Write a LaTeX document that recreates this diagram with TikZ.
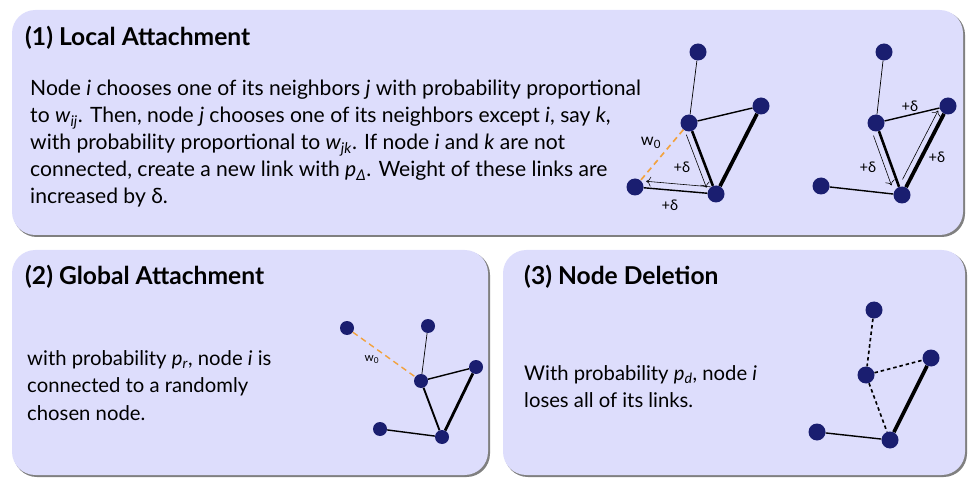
\documentclass[tikz,border=0pt]{standalone}
\usepackage{fontspec}
\setmainfont{Lato}
\usetikzlibrary{arrows.meta, calc}

\definecolor{panelfill}{RGB}{221,221,252}
\definecolor{navy}{RGB}{26,30,112}
\definecolor{linkorange}{RGB}{242,162,62}

\begin{document}
\begin{tikzpicture}[
    x=0.03cm, y=-0.03cm,
    panel/.style={fill=panelfill, rounded corners=0.7cm},
    panelshadow/.style={fill=black!50, rounded corners=0.7cm},
    title/.style={font=\bfseries\fontsize{21}{24}\selectfont, inner sep=0pt, anchor=base west},
    body/.style={font=\fontsize{18}{23}\selectfont, align=left, inner sep=0pt, anchor=north west},
    smallbody/.style={body, font=\fontsize{17.3}{23.5}\selectfont},
    vertex/.style={circle, fill=navy, inner sep=0pt, minimum size=0.51cm},
    smallvertex/.style={vertex, minimum size=0.42cm},
    weak/.style={line width=0.6pt},
    link/.style={line width=1.2pt},
    strong/.style={line width=2.2pt},
    heavy/.style={line width=3.2pt},
    newlink/.style={draw=linkorange, line width=1.4pt, dash pattern=on 5pt off 3.5pt},
    lostlink/.style={line width=1.4pt, dash pattern=on 3pt off 2.5pt},
    flow/.style={-{To[length=4pt]}, line width=0.5pt},
    lbl/.style={font=\fontsize{12.5}{14}\selectfont, inner sep=0pt}
]
    % panels
    \fill[panelshadow] (13.5,11.5) rectangle (965,237);
    \fill[panel] (12,10) rectangle (963,235);
    \fill[panelshadow] (13.5,251.5) rectangle (490,477);
    \fill[panel] (12,250) rectangle (488,475);
    \fill[panelshadow] (504.5,251.5) rectangle (967,477);
    \fill[panel] (503,250) rectangle (965,475);

    % (1) Local Attachment
    \node[title] (title1) at (25,46) {(1) Local Attachment};
    \node[body] (text1) at (30,80) {Node \textit{i} chooses one of its neighbors \textit{j} with probability proportional\\
        to \textit{w}\textsubscript{\textit{ij}}. Then, node \textit{j} chooses one of its neighbors except \textit{i}, say \textit{k},\\
        with probability proportional to \textit{w}\textsubscript{\textit{jk}}. If node \textit{i} and \textit{k} are not\\
        connected, create a new link with \textit{p}\textsubscript{\textit{Δ}}. Weight of these links are\\
        increased by δ.};

    \node[vertex] (t1) at (698,52) {};
    \node[vertex] (i1) at (689,123) {};
    \node[vertex] (r1) at (761,106) {};
    \node[vertex] (k1) at (635,187) {};
    \node[vertex] (j1) at (716,194) {};
    \draw[weak] (t1) -- (i1);
    \draw[link] (i1) -- (r1);
    \draw[strong] (i1) -- (j1);
    \draw[heavy] (r1) -- (j1);
    \draw[link] (k1) -- (j1);
    \draw[newlink] (i1) -- (k1);
    \draw[flow, shorten <=0.3cm, shorten >=0.28cm] ($(i1)!0.2cm!-90:(j1)$) -- ($(j1)!0.2cm!90:(i1)$);
    \draw[flow, shorten <=0.18cm, shorten >=0.32cm] ($(j1)!0.2cm!-90:(k1)$) -- ($(k1)!0.2cm!90:(j1)$);
    \node[lbl, font=\fontsize{14}{16}\selectfont] (w1) at (651,143) {w\textsubscript{0}};
    \node[lbl] (d1) at (682,167) {+δ};
    \node[lbl] (d2) at (670,205) {+δ};

    \node[vertex] (t2) at (884,52) {};
    \node[vertex] (i2) at (876,123) {};
    \node[vertex] (k2) at (948,106) {};
    \node[vertex] (b2) at (821,186) {};
    \node[vertex] (j2) at (902,195) {};
    \draw[weak] (t2) -- (i2);
    \draw[link] (i2) -- (k2);
    \draw[strong] (i2) -- (j2);
    \draw[heavy] (k2) -- (j2);
    \draw[link] (b2) -- (j2);
    \draw[flow, shorten <=0.33cm, shorten >=0.38cm] ($(i2)!0.2cm!-90:(j2)$) -- ($(j2)!0.2cm!90:(i2)$);
    \draw[flow, shorten <=0.42cm, shorten >=0.26cm] ($(j2)!0.2cm!90:(k2)$) -- ($(k2)!0.2cm!-90:(j2)$);
    \node[lbl] (d3) at (910,106) {+δ};
    \node[lbl] (d4) at (937,157) {+δ};
    \node[lbl] (d5) at (868,167) {+δ};

    % (2) Global Attachment
    \node[title] (title2) at (25,284) {(2) Global Attachment};
    \node[smallbody] (text2) at (27,350) {with probability \textit{p}\textsubscript{\textit{r}}, node \textit{i} is\\
        connected to a randomly\\
        chosen node.};

    \node[smallvertex] (n3) at (347,328) {};
    \node[smallvertex] (t3) at (428,326) {};
    \node[smallvertex] (i3) at (421,381) {};
    \node[smallvertex] (r3) at (476,367) {};
    \node[smallvertex] (b3) at (380,429) {};
    \node[smallvertex] (c3) at (442,437) {};
    \draw[weak] (t3) -- (i3);
    \draw[link] (i3) -- (r3);
    \draw[line width=1.6pt] (i3) -- (c3);
    \draw[line width=2.4pt] (r3) -- (c3);
    \draw[link] (b3) -- (c3);
    \draw[newlink, line width=1.2pt] (n3) -- (i3);
    \node[lbl, font=\fontsize{10}{12}\selectfont] (w2) at (372,360) {w\textsubscript{0}};

    % (3) Node Deletion
    \node[title] (title3) at (524,284) {(3) Node Deletion};
    \node[smallbody] (text3) at (524,365) {With probability \textit{p}\textsubscript{\textit{d}}, node \textit{i}\\
        loses all of its links.};

    \node[vertex] (t4) at (874,310) {};
    \node[vertex] (i4) at (866,375) {};
    \node[vertex] (r4) at (931,358) {};
    \node[vertex] (b4) at (817,432) {};
    \node[vertex] (c4) at (890,440) {};
    \draw[lostlink] (t4) -- (i4);
    \draw[lostlink] (i4) -- (r4);
    \draw[lostlink] (i4) -- (c4);
    \draw[heavy] (r4) -- (c4);
    \draw[link] (b4) -- (c4);

    \useasboundingbox (0,0) rectangle (978,485);
\end{tikzpicture}
\end{document}
